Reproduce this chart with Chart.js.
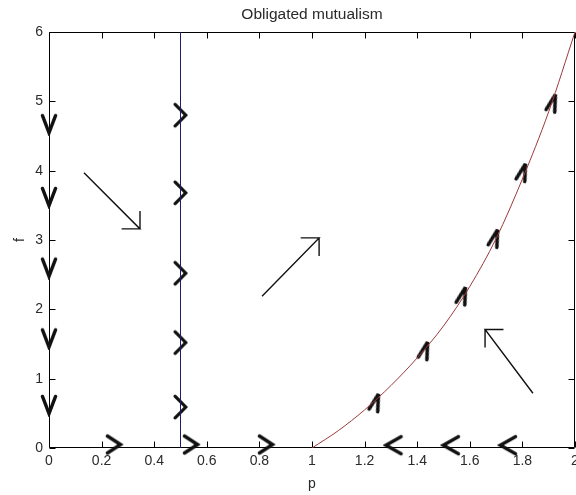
<!DOCTYPE html>
<html>
<head>
<meta charset="utf-8">
<script src="https://cdn.jsdelivr.net/npm/chart.js@4.4.1/dist/chart.umd.min.js"></script>
<style>
  html, body { margin: 0; padding: 0; background: #fff; }
</style>
</head>
<body>
<canvas id="myChart" width="576" height="495"></canvas>
<script>
// axis ticks
let xTicks = [0, 0.2, 0.4, 0.6, 0.8, 1, 1.2, 1.4, 1.6, 1.8, 2];
let yTicks = [0, 1, 2, 3, 4, 5, 6];

// p nullcline (vertical) and f nullcline (curve)
let nullclineP = 0.5;
let curveP = [1, 1.1, 1.2, 1.3, 1.4, 1.5, 1.6, 1.7, 1.8, 1.9, 2.0];
let curveF = [0, 0.25, 0.55, 0.9, 1.3, 1.76, 2.33, 3.02, 3.88, 4.85, 6.0];

// direction markers
let downMarksF = [4.67, 3.62, 2.6, 1.58, 0.62];        // on p = 0
let rightMarksF = [4.8, 3.68, 2.52, 1.52, 0.59];       // on p = 0.5
let axisRightP = [0.247, 0.54, 0.825];                 // on f = 0, moving right
let axisLeftP = [1.31, 1.528, 1.745];                  // on f = 0, moving left
let curveMarkP = [1.243, 1.43, 1.574, 1.696, 1.802, 1.916];
let curveMarkF = [0.66, 1.41, 2.2, 3.03, 3.98, 4.98];

// flow arrows in each region
let arrowTailP = [0.133, 0.81, 1.84];
let arrowTailF = [3.97, 2.19, 0.79];
let arrowTipP = [0.346, 1.027, 1.658];
let arrowTipF = [3.16, 3.03, 1.71];

let arrowHeadP = 0.07;
let arrowHeadF = 0.26;
let ink = '#111';

Chart.defaults.font.family = "'Liberation Sans', Arial, sans-serif";
Chart.defaults.font.size = 14;
Chart.defaults.color = '#2a2a2a';

// small chevron pointing up, rotated per dataset
function chevron(along, across, lw) {
    let c = document.createElement('canvas');
    c.width = Math.ceil(across + lw * 2);
    c.height = Math.ceil(along + lw * 2);
    let g = c.getContext('2d');
    g.strokeStyle = ink;
    g.lineWidth = lw;
    g.lineCap = 'round';
    g.lineJoin = 'miter';
    g.miterLimit = 3;
    g.beginPath();
    g.moveTo(lw, c.height - lw);
    g.lineTo(c.width / 2, lw);
    g.lineTo(c.width - lw, c.height - lw);
    g.stroke();
    return c;
}

function arrowPath(i) {
    let tp = arrowTipP[i], tf = arrowTipF[i];
    let sp = Math.sign(tp - arrowTailP[i]);
    let sf = Math.sign(tf - arrowTailF[i]);
    return [
        {x: arrowTailP[i], y: arrowTailF[i]},
        {x: tp, y: tf},
        {x: tp - sp * arrowHeadP, y: tf},
        {x: tp, y: tf},
        {x: tp, y: tf - sf * arrowHeadF}
    ];
}

function markSet(points, style, rotation) {
    return {
        data: points,
        showLine: false,
        pointStyle: style,
        pointRotation: rotation,
        pointRadius: 6,
        clip: false
    };
}

let datasets = [
    {
        data: [{x: nullclineP, y: 0}, {x: nullclineP, y: 6}],
        showLine: true, borderColor: '#1b1b66', borderWidth: 1, pointRadius: 0
    },
    {
        data: curveP.map((p, i) => ({x: p, y: curveF[i]})),
        showLine: true, borderColor: '#9a3a3a', borderWidth: 1, pointRadius: 0,
        cubicInterpolationMode: 'monotone'
    }
];

arrowTipP.forEach((_, i) => {
    datasets.push({
        data: arrowPath(i),
        showLine: true, borderColor: ink, borderWidth: 1.4, pointRadius: 0, clip: false
    });
});

datasets.push(markSet(downMarksF.map(f => ({x: 0, y: f})), chevron(17, 13, 3.5), 180));
datasets.push(markSet(rightMarksF.map(f => ({x: nullclineP, y: f})), chevron(10, 21, 3.2), 90));
datasets.push(markSet(axisRightP.map(p => ({x: p, y: 0.05})), chevron(13, 17, 3.5), 90));
datasets.push(markSet(axisLeftP.map(p => ({x: p, y: 0.04})), chevron(15, 17, 3.5), -90));
datasets.push(markSet(curveMarkP.map((p, i) => ({x: p, y: curveMarkF[i]})), chevron(17, 9, 3.5), 17));

// box around the axes with inward ticks
let framePlugin = {
    id: 'frame',
    beforeDatasetsDraw(chart) {
        let ctx = chart.ctx;
        let a = chart.chartArea;
        let xs = chart.scales.x, ys = chart.scales.y;
        let l = Math.round(a.left) + 0.5, r = Math.round(a.right) - 0.5;
        let t = Math.round(a.top) + 0.5, b = Math.round(a.bottom) - 0.5;
        ctx.save();
        ctx.strokeStyle = '#000';
        ctx.lineWidth = 1;
        ctx.beginPath();
        ctx.rect(l, t, r - l, b - t);
        xTicks.forEach(v => {
            let px = Math.round(xs.getPixelForValue(v)) + 0.5;
            ctx.moveTo(px, b); ctx.lineTo(px, b - 6);
            ctx.moveTo(px, t); ctx.lineTo(px, t + 6);
        });
        yTicks.forEach(v => {
            let py = Math.round(ys.getPixelForValue(v)) + 0.5;
            ctx.moveTo(l, py); ctx.lineTo(l + 6, py);
            ctx.moveTo(r, py); ctx.lineTo(r - 6, py);
        });
        ctx.stroke();
        ctx.restore();
    }
};

function fmt(v) {
    return String(Math.round(v * 10) / 10);
}

let ctx = document.getElementById('myChart').getContext('2d');
let myChart = new Chart(ctx, {
    type: 'scatter',
    data: {datasets: datasets},
    plugins: [framePlugin],
    options: {
        responsive: false,
        animation: false,
        devicePixelRatio: 1,
        // the last x label is allowed to hang past the right edge
        layout: {autoPadding: false, padding: {left: 0, right: 1, top: 0, bottom: 0}},
        plugins: {legend: {display: false}, tooltip: {enabled: false}},
        elements: {line: {tension: 0}},
        scales: {
            x: {
                type: 'linear', position: 'bottom', min: 0, max: 2,
                afterBuildTicks: s => { s.ticks = xTicks.map(v => ({value: v})); },
                ticks: {callback: fmt, padding: 5, maxRotation: 0, autoSkip: false},
                grid: {display: false, drawTicks: false},
                border: {display: false},
                title: {display: true, text: 'p', padding: {top: 0, bottom: 2}},
                afterFit: s => { s.height = 47; s.paddingLeft = 0; s.paddingRight = 0; }
            },
            x2: {
                type: 'linear', position: 'top', min: 0, max: 2,
                ticks: {display: false},
                grid: {display: false, drawTicks: false},
                border: {display: false},
                title: {display: true, text: 'Obligated mutualism', font: {size: 15.5}, padding: {top: 5, bottom: 0}},
                afterFit: s => { s.height = 32; s.paddingLeft = 0; s.paddingRight = 0; }
            },
            y: {
                type: 'linear', position: 'left', min: 0, max: 6,
                afterBuildTicks: s => { s.ticks = yTicks.map(v => ({value: v})); },
                ticks: {callback: fmt, padding: 6},
                grid: {display: false, drawTicks: false},
                border: {display: false},
                title: {display: true, text: 'f', padding: {top: 12, bottom: 0}},
                afterFit: s => { s.width = 49; s.paddingTop = 0; s.paddingBottom = 0; }
            }
        }
    }
});
</script>
</body>
</html>
